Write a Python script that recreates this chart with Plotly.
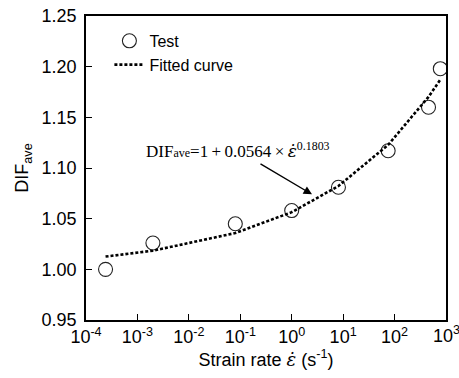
import plotly.graph_objects as go

# Data
strain_rate = [2.4e-4, 2.0e-3, 0.08, 1.0, 8.1, 75, 457, 775]
dif_test = [1.000, 1.026, 1.045, 1.058, 1.081, 1.117, 1.160, 1.198]
# Fitted curve values (1 + 0.0564 * rate^0.1803) at the test rates
dif_fit = [1.0126, 1.0184, 1.0358, 1.0564, 1.0822, 1.1228, 1.1702, 1.1871]

x_tickvals = [1e-4, 1e-3, 1e-2, 1e-1, 1e0, 1e1, 1e2, 1e3]
x_ticktext = ["10<sup>-4</sup>", "10<sup>-3</sup>", "10<sup>-2</sup>", "10<sup>-1</sup>",
              "10<sup>0</sup>", "10<sup>1</sup>", "10<sup>2</sup>", "10<sup>3</sup>"]
y_tickvals = [0.95, 1.00, 1.05, 1.10, 1.15, 1.20, 1.25]

EPS = "<span style='font-family:DejaVu Serif'><i>ε̇</i></span>"

fig = go.Figure()
fig.add_trace(go.Scatter(
    x=strain_rate, y=dif_test, mode="markers", name="Test",
    marker=dict(symbol="circle-open", size=14, color="#222", line=dict(width=1.1)),
))
fig.add_trace(go.Scatter(
    x=strain_rate, y=dif_fit, mode="lines", name="Fitted curve",
    line=dict(color="black", width=2.6, dash="3px,2px"),
))

font_main = dict(family="Liberation Sans, Arial", size=18, color="black")

fig.update_layout(
    width=459, height=378,
    margin=dict(l=86, r=13, t=16, b=58),
    paper_bgcolor="white", plot_bgcolor="white",
    font=font_main,
    showlegend=True,
    legend=dict(x=0.065, y=0.974, xanchor="left", yanchor="top",
                bgcolor="rgba(0,0,0,0)", font=dict(family="Liberation Sans, Arial", size=16),
                tracegroupgap=0, itemwidth=30),
    xaxis=dict(
        type="log", range=[-4, 3], automargin=False,
        tickvals=x_tickvals, ticktext=x_ticktext,
        ticks="inside", ticklen=6, tickwidth=1.2, tickcolor="black",
        showline=True, linecolor="black", linewidth=1.5, mirror=True,
        showgrid=False, zeroline=False,
        title=dict(text="Strain rate " + EPS + " (s<sup>-1</sup>)", standoff=3,
                   font=dict(family="Liberation Sans, Arial", size=18)),
    ),
    yaxis=dict(
        range=[0.95, 1.25], automargin=False,
        tickvals=y_tickvals, tickformat=".2f",
        ticks="inside", ticklen=6, tickwidth=1.2, tickcolor="black",
        showline=True, linecolor="black", linewidth=1.5, mirror=True,
        showgrid=False, zeroline=False,
        ticklabelstandoff=4,
        title=dict(text="DIF<sub>ave</sub>", standoff=8,
                   font=dict(family="Liberation Sans, Arial", size=18)),
    ),
)

# last x tick label (runs off the right edge, as in the reference)
fig.add_annotation(
    x=3, y=0, xref="x", yref="paper", text=x_ticktext[-1],
    showarrow=False, xanchor="center", yanchor="top", yshift=-1,
    font=dict(family="Liberation Sans, Arial", size=18, color="black"),
)

fig.add_annotation(
    x=(238 - 86) / 360, y=1.118, xref="x domain", yref="y",
    text="DIF<span style='font-size:12px'>ave</span>=1\u2009+\u20090.0564\u2009×\u2009" + EPS
         + "<sup>0.1803</sup>",
    showarrow=False, font=dict(family="Liberation Serif, Times New Roman", size=17, color="black"),
    xanchor="center", yanchor="middle",
)
# arrow pointing to the curve
fig.add_annotation(
    x=(312 - 86) / 360, y=1.074, xref="x domain", yref="y",
    ax=(259 - 86) / 360, ay=1.105, axref="x domain", ayref="y",
    text="", showarrow=True, arrowhead=2, arrowsize=1.2, arrowwidth=1.4, arrowcolor="black",
)

fig.write_html("out.html")
